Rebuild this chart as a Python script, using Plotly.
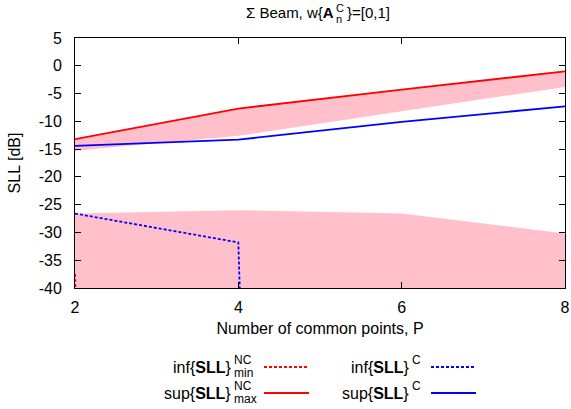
import plotly.graph_objects as go

# ---- data ----
P = [2, 4, 6, 8]
sup_nc_max = [-13.2, -7.7, -4.3, -1.0]        # red solid
inf_nc_min = [-37.5, -1000, -1000, -1000]      # red dashed (drops far below axis)
sup_c = [-14.4, -13.3, -10.1, -7.3]            # blue solid
inf_c = [-26.6, -31.8, -1000, -1000]           # blue dashed (drops far below axis)
band_hi_lower = [-15.3, -12.6, -8.2, -3.8]     # lower edge of upper pink band
band_lo_upper = [-26.6, -26.0, -26.6, -30.2]   # upper edge of lower pink band
band_lo_lower = [-1000, -1000, -1000, -1000]   # lower pink band extends below axis

x_ticks = [2, 4, 6, 8]
y_ticks = [5, 0, -5, -10, -15, -20, -25, -30, -35, -40]

PINK = "rgb(255,192,203)"
RED = "rgb(255,0,0)"
BLUE = "rgb(0,0,255)"
FONT = "Liberation Sans, Arial, sans-serif"

fig = go.Figure()

# lower pink band
fig.add_trace(go.Scatter(x=P, y=band_lo_lower, mode="lines", line=dict(width=0),
                         showlegend=False, hoverinfo="skip"))
fig.add_trace(go.Scatter(x=P, y=band_lo_upper, mode="lines", line=dict(width=0),
                         fill="tonexty", fillcolor=PINK, showlegend=False, hoverinfo="skip"))
# upper pink band
fig.add_trace(go.Scatter(x=P, y=band_hi_lower, mode="lines", line=dict(width=0),
                         showlegend=False, hoverinfo="skip"))
fig.add_trace(go.Scatter(x=P, y=sup_nc_max, mode="lines", line=dict(width=0),
                         fill="tonexty", fillcolor=PINK, showlegend=False, hoverinfo="skip"))

# lines
fig.add_trace(go.Scatter(x=P, y=inf_nc_min, mode="lines", name="inf{SLL}NC min",
                         line=dict(color=RED, width=1.8, dash="3px,2px"), showlegend=False))
fig.add_trace(go.Scatter(x=P, y=sup_nc_max, mode="lines", name="sup{SLL}NC max",
                         line=dict(color=RED, width=1.8), showlegend=False))
fig.add_trace(go.Scatter(x=P, y=inf_c, mode="lines", name="inf{SLL}C",
                         line=dict(color=BLUE, width=1.8, dash="3px,2px"), showlegend=False))
fig.add_trace(go.Scatter(x=P, y=sup_c, mode="lines", name="sup{SLL}C",
                         line=dict(color=BLUE, width=1.8), showlegend=False))

W, H = 571, 409
L, R, T, B = 75, 6, 38, 121
pw, ph = W - L - R, H - T - B


def px(xp):
    return (xp - L) / pw


def py(yp):
    return (H - B - yp) / ph


ann = []
shapes = []


def txt(text, x, y, anchor, size):
    ann.append(dict(text=text, x=px(x), y=py(y), xanchor=anchor, yanchor="middle",
                    borderpad=0, font=dict(size=size, family=FONT, color="black")))


# title pieces (stacked super/subscript)
txt("Σ Beam, w{<b>A</b>", 335, 13, "right", 15)
txt("C", 335, 8, "left", 11)
txt("n", 335, 19, "left", 11)
txt("}=[0,1]", 346, 13, "left", 15)

# custom legend
rows = [367, 393]
legend_items = [
    # (main text, sup, sub, right edge x, row, color, dashed, line x0, line x1)
    ("inf{<b>SLL</b>}", "NC", "min", 232, 0, RED, True, 264, 309),
    ("sup{<b>SLL</b>}", "NC", "max", 232, 1, RED, False, 264, 309),
    ("inf{<b>SLL</b>}", "C", None, 410, 0, BLUE, True, 431, 476),
    ("sup{<b>SLL</b>}", "C", None, 410, 1, BLUE, False, 431, 476),
]
for main, sup, sub, xr, r, col, dashed, lx0, lx1 in legend_items:
    yc = rows[r]
    txt(main, xr, yc, "right", 16)
    txt(sup, xr + 1, yc - 7, "left", 12)
    if sub:
        txt(sub, xr + 1, yc + 6, "left", 12)
    shapes.append(dict(type="line", xref="paper", yref="paper",
                       x0=px(lx0), x1=px(lx1), y0=py(yc), y1=py(yc),
                       line=dict(color=col, width=1.8, dash="3px,2px" if dashed else "solid")))

for a in ann:
    a.update(xref="paper", yref="paper", showarrow=False)

axis_common = dict(showline=True, linecolor="black", linewidth=1, mirror="ticks",
                   ticks="inside", ticklen=6, tickcolor="black", tickwidth=1,
                   showgrid=False, zeroline=False, automargin=False,
                   tickfont=dict(size=16, family=FONT, color="black"))

fig.update_layout(
    width=W, height=H,
    margin=dict(l=L, r=R, t=T, b=B, autoexpand=False),
    paper_bgcolor="white", plot_bgcolor="white",
    annotations=ann, shapes=shapes,
    xaxis=dict(range=[2, 8], tickvals=x_ticks, ticktext=[str(v) for v in x_ticks],
               title=dict(text="Number of common points, P", standoff=7,
                          font=dict(size=16, family=FONT, color="black")),
               ticklabelstandoff=5, **axis_common),
    yaxis=dict(range=[-40, 5], tickvals=y_ticks, ticktext=[str(v) for v in y_ticks],
               title=dict(text="SLL [dB]", standoff=14,
                          font=dict(size=16, family=FONT, color="black")),
               ticklabelstandoff=9, **axis_common),
    showlegend=False,
)

fig.write_html("out.html")
